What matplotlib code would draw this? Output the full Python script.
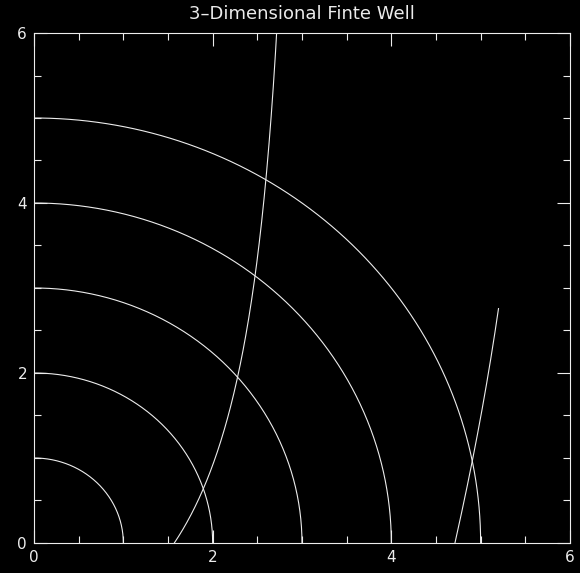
import numpy as np
import matplotlib.pyplot as plt
from matplotlib.ticker import MultipleLocator

# circle radii (well strength), xi^2 + eta^2 = r^2
radii = [1, 2, 3, 4, 5]
# ranges of xi for the branches of eta = -xi*cot(xi)
branches = [(1.5708, 2.75), (4.7124, 5.2)]

title = '3\u2013Dimensional Finte Well'
fg = '#ececec'

fig = plt.figure(figsize=(5.8, 5.73), dpi=100, facecolor='black')
ax = fig.add_axes([0.0586, 0.0524, 0.9241, 0.890], facecolor='black')

theta = np.linspace(0, np.pi / 2, 300)
for r in radii:
    ax.plot(r * np.cos(theta), r * np.sin(theta), color=fg, lw=0.8)

for a, b in branches:
    xi = np.linspace(a, b, 300)
    eta = -xi / np.tan(xi)
    ax.plot(xi, eta, color=fg, lw=0.8)

ax.set_xlim(0, 6)
ax.set_ylim(0, 6)
ax.xaxis.set_major_locator(MultipleLocator(2))
ax.xaxis.set_minor_locator(MultipleLocator(0.5))
ax.yaxis.set_major_locator(MultipleLocator(2))
ax.yaxis.set_minor_locator(MultipleLocator(0.5))
ax.tick_params(which='both', direction='in', top=True, right=True, colors=fg,
               labelsize=11, width=0.8)
ax.tick_params(which='major', length=9.5, pad=5)
ax.tick_params(which='minor', length=4.8)
ax.tick_params(axis='y', pad=5)
for s in ax.spines.values():
    s.set_color(fg)
    s.set_linewidth(0.8)

ax.set_title(title, color=fg, fontsize=13, pad=10)

fig.savefig('out.png', dpi=100, facecolor='black')
